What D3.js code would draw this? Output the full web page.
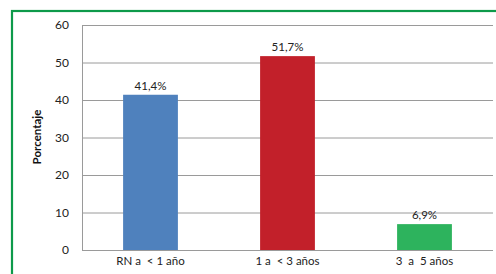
<!DOCTYPE html>
<html><head><meta charset="utf-8">
<script src="https://cdn.jsdelivr.net/npm/d3@7"></script>
<style>body{margin:0;background:#fff}svg{display:block}</style>
</head><body>
<script>
const categories = ["RN a  < 1 año", "1 a  < 3 años", "3  a  5 años"];
const values = [41.4, 51.7, 6.9];
const valueLabels = ["41,4%", "51,7%", "6,9%"];
const colors = ["#4f81bd", "#c2202a", "#2db35d"];
const yTicks = [0, 10, 20, 30, 40, 50, 60];

const W = 496, H = 274;
const svg = d3.select("body").append("svg").attr("width", W).attr("height", H);
const font = "Lato, 'Liberation Sans', sans-serif";

// frame
svg.append("rect").attr("x", 12).attr("y", 11).attr("width", 520).attr("height", 300)
  .attr("fill", "none").attr("stroke", "#0d9a4a").attr("stroke-width", 2.2);

const m = {l: 82, r: 493, t: 25, b: 250};
const x = d3.scaleBand().domain(categories).range([m.l, m.r]).paddingInner(0.6).paddingOuter(0.3);
const y = d3.scaleLinear().domain([0, 60]).range([m.b, m.t]);

// gridlines
svg.append("g").selectAll("line").data(yTicks).join("line")
  .attr("x1", m.l).attr("x2", m.r)
  .attr("y1", d => y(d) + 0.5).attr("y2", d => y(d) + 0.5)
  .attr("stroke", "#9a9a9a").attr("stroke-width", 1);
// left axis line
svg.append("line").attr("x1", m.l + 0.5).attr("x2", m.l + 0.5).attr("y1", m.t).attr("y2", m.b + 1)
  .attr("stroke", "#9a9a9a");

// y tick labels
svg.append("g").selectAll("text").data(yTicks).join("text")
  .attr("x", 69).attr("y", d => y(d) + 4)
  .attr("text-anchor", "end").attr("font-family", font).attr("font-size", 12).attr("fill", "#222")
  .text(d => d);

// bars
svg.append("g").selectAll("rect").data(values).join("rect")
  .attr("x", (d, i) => x(categories[i]))
  .attr("width", x.bandwidth())
  .attr("y", d => y(d))
  .attr("height", d => y(0) - y(d))
  .attr("fill", (d, i) => colors[i]);

// value labels
svg.append("g").selectAll("text").data(values).join("text")
  .attr("x", (d, i) => x(categories[i]) + x.bandwidth() / 2)
  .attr("y", d => y(d) - 5)
  .attr("text-anchor", "middle").attr("font-family", font).attr("font-size", 11.5).attr("fill", "#222")
  .text((d, i) => valueLabels[i]);

// category labels
svg.append("g").selectAll("text").data(categories).join("text")
  .attr("x", d => x(d) + x.bandwidth() / 2)
  .attr("y", 265)
  .attr("text-anchor", "middle").attr("font-family", font).attr("font-size", 11.5).attr("fill", "#222")
  .attr("xml:space", "preserve").style("white-space", "pre")
  .text(d => d);

// y axis title
svg.append("text")
  .attr("transform", "translate(41,137) rotate(-90)")
  .attr("text-anchor", "middle").attr("font-family", font).attr("font-size", 11.5)
  .attr("font-weight", "bold").attr("fill", "#111")
  .text("Porcentaje");
</script>
</body></html>
